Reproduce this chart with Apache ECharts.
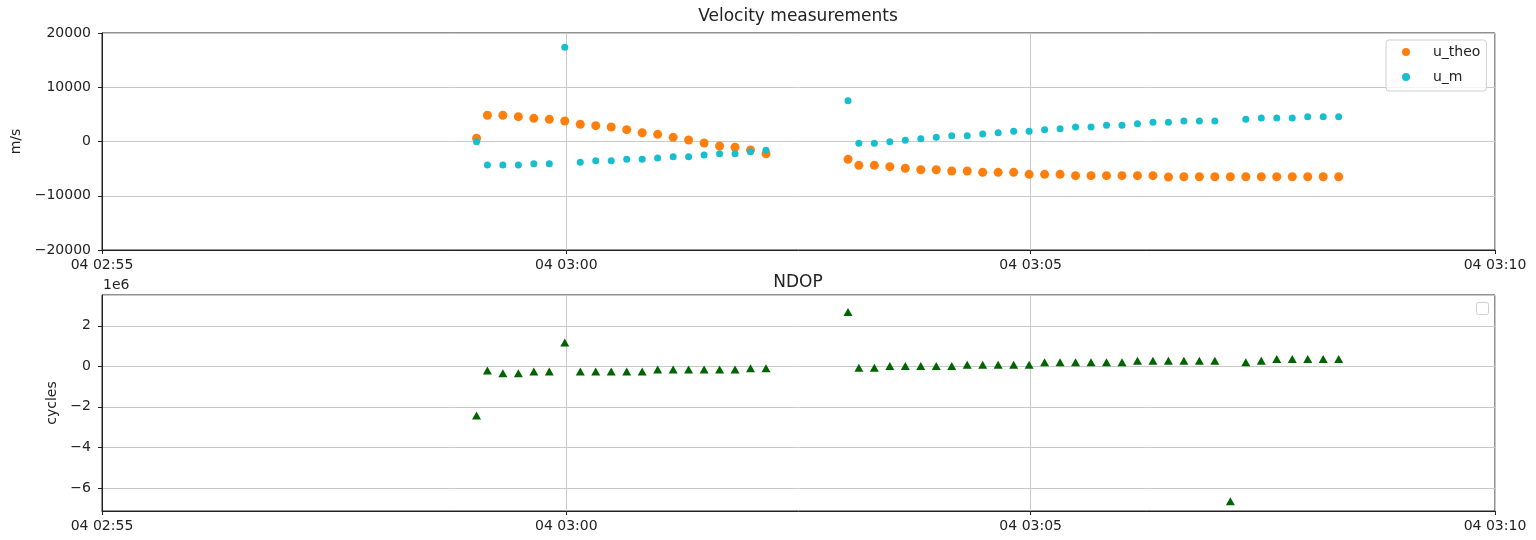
<!DOCTYPE html>
<html>
<head>
<meta charset="utf-8">
<script src="https://cdn.jsdelivr.net/npm/echarts@6/dist/echarts.min.js"></script>
<style>
html,body{margin:0;padding:0;background:#fff;}
#chart{width:1536px;height:540px;}
</style>
</head>
<body>
<div id="chart"></div>
<script>
// ---- data ----
const dateDay = [2021, 0, 4];
const times = [
  '02:59:02','02:59:09','02:59:19','02:59:29','02:59:39','02:59:49','02:59:59',
  '03:00:09','03:00:19','03:00:29','03:00:39','03:00:49','03:00:59',
  '03:01:09','03:01:19','03:01:29','03:01:39','03:01:49','03:01:59','03:02:09',
  '03:03:02','03:03:09','03:03:19','03:03:29','03:03:39','03:03:49','03:03:59',
  '03:04:09','03:04:19','03:04:29','03:04:39','03:04:49','03:04:59',
  '03:05:09','03:05:19','03:05:29','03:05:39','03:05:49','03:05:59',
  '03:06:09','03:06:19','03:06:29','03:06:39','03:06:49','03:06:59',
  '03:07:09','03:07:19','03:07:29','03:07:39','03:07:49','03:07:59',
  '03:08:09','03:08:19'
];
const uTheo = [
  590, 4830, 4830, 4580, 4270, 4090, 3780, 3170, 2920, 2670, 2180, 1620, 1320,
  770, 280, -280, -830, -1070, -1570, -2250,
  -3280, -4390, -4390, -4640, -4940, -5200, -5200, -5440, -5440, -5680, -5680,
  -5680, -6050, -6050, -6050, -6300, -6300, -6300, -6300, -6300, -6300, -6540,
  -6490, -6490, -6490, -6490, -6490, -6490, -6490, -6490, -6490, -6490, -6490
];
const uM = [
  -50, -4330, -4330, -4330, -4090, -4090, 17360, -3830, -3540, -3540, -3280,
  -3280, -3040, -2800, -2800, -2490, -2250, -2250, -1880, -1620,
  7520, -330, -330, -40, 220, 520, 770, 1070, 1070, 1380, 1620, 1880, 1880,
  2180, 2360, 2670, 2670, 2980, 2980, 3280, 3530, 3530,
  3780, 3780, 3780, null, 4090, 4330, 4330, 4330, 4580, 4580, 4580
];
const ndop = [ // cycles
  -2.43e6, -0.20e6, -0.34e6, -0.34e6, -0.25e6, -0.25e6, 1.18e6, -0.26e6, -0.26e6,
  -0.26e6, -0.26e6, -0.26e6, -0.16e6, -0.16e6, -0.16e6, -0.16e6, -0.16e6, -0.16e6,
  -0.10e6, -0.10e6,
  2.68e6, -0.07e6, -0.07e6, 0.02e6, 0.02e6, 0.02e6, 0.02e6, 0.02e6, 0.08e6, 0.08e6,
  0.08e6, 0.08e6, 0.08e6, 0.20e6, 0.20e6, 0.20e6, 0.20e6, 0.20e6, 0.20e6, 0.28e6,
  0.28e6, 0.28e6, 0.28e6, 0.28e6, 0.28e6, -6.66e6, 0.20e6, 0.28e6, 0.36e6, 0.36e6,
  0.36e6, 0.36e6, 0.36e6
];
const xStart = '02:55', xEnd = '03:10';
const velTicks = [-20000, 20000, 10000];   // min, max, interval
const ndopRange = [-7.14e6, 3.52e6];

// ---- helpers ----
function toMs(hms) {
  const p = hms.split(':').map(Number);
  return Date.UTC(dateDay[0], dateDay[1], dateDay[2], p[0], p[1], p[2] || 0);
}
const pad = n => String(n).padStart(2, '0');
function fmtTime(v) {
  const d = new Date(v);
  return pad(d.getUTCDate()) + ' ' + pad(d.getUTCHours()) + ':' + pad(d.getUTCMinutes());
}
const minus = s => String(s).replace('-', '\u2212');
function pairs(arr) {
  const out = [];
  arr.forEach((v, i) => { if (v !== null) out.push([toMs(times[i]), v]); });
  return out;
}

const FONT = 'DejaVu Sans';
const gridLine = { show: true, lineStyle: { color: '#c9c9c9', width: 1 } };
const axisLine = { show: true, onZero: false, lineStyle: { color: '#222', width: 1 } };
const axisTick = { show: true, length: 4, lineStyle: { color: '#222' } };

function xAx(gi) {
  return {
    type: 'value', gridIndex: gi,
    min: toMs(xStart), max: toMs(xEnd), interval: 5 * 60 * 1000,
    axisLine, axisTick, splitLine: gridLine,
    axisLabel: { formatter: fmtTime, color: '#222', fontFamily: FONT, fontSize: 14, margin: 8,
                 showMinLabel: true, showMaxLabel: true }
  };
}

const chart = echarts.init(document.getElementById('chart'), null, { renderer: 'canvas' });
chart.setOption({
  backgroundColor: '#fff',
  animation: false,
  title: [
    { text: 'Velocity measurements', left: 798, top: 8, textAlign: 'center', padding: 0,
      textStyle: { fontFamily: FONT, fontSize: 17, fontWeight: 'normal', color: '#222' } },
    { text: 'NDOP', left: 798, top: 274, textAlign: 'center', padding: 0,
      textStyle: { fontFamily: FONT, fontSize: 17, fontWeight: 'normal', color: '#222' } },
    { text: '1e6', left: 103, top: 278, padding: 0,
      textStyle: { fontFamily: FONT, fontSize: 14, fontWeight: 'normal', color: '#222' } }
  ],
  grid: [
    { left: 102, right: 41, top: 33, height: 217, show: true, borderColor: '#222', borderWidth: 1 },
    { left: 102, right: 41, top: 295, height: 216, show: true, borderColor: '#222', borderWidth: 1 }
  ],
  xAxis: [xAx(0), xAx(1)],
  yAxis: [
    { type: 'value', gridIndex: 0, min: velTicks[0], max: velTicks[1], interval: velTicks[2],
      name: 'm/s', nameLocation: 'middle', nameGap: 73, nameRotate: 90,
      nameTextStyle: { fontFamily: FONT, fontSize: 14, color: '#222' },
      axisLine, axisTick, splitLine: gridLine,
      axisLabel: { formatter: v => minus(v), color: '#222', fontFamily: FONT, fontSize: 14, margin: 11 } },
    { type: 'value', gridIndex: 1, min: ndopRange[0], max: ndopRange[1], splitNumber: 5,
      name: 'cycles', nameLocation: 'middle', nameGap: 36, nameRotate: 90,
      nameTextStyle: { fontFamily: FONT, fontSize: 14, color: '#222' },
      axisLine, axisTick, splitLine: gridLine,
      axisLabel: { formatter: v => minus(Math.round(v / 1e6)), showMinLabel: false, showMaxLabel: false,
                   color: '#222', fontFamily: FONT, fontSize: 14, margin: 11 } }
  ],
  legend: {
    show: true, orient: 'vertical', left: 1386, top: 40,
    data: [{ name: 'u_theo', icon: 'circle' }, { name: 'u_m', icon: 'circle' }],
    itemWidth: 26, itemHeight: 8, itemGap: 9,
    padding: [4, 6, 6, 16],
    borderColor: '#d0d0d0', borderWidth: 1, borderRadius: 3,
    backgroundColor: 'rgba(255,255,255,0.8)',
    textStyle: { fontFamily: FONT, fontSize: 14, color: '#222', lineHeight: 16, padding: [0, 0, 0, 9] }
  },
  graphic: [
    { type: 'rect', left: 1476, top: 302, shape: { width: 12, height: 12, r: 2 },
      style: { fill: '#fff', stroke: '#d0d0d0', lineWidth: 1 }, z: 10 }
  ],
  series: [
    { name: 'u_theo', type: 'scatter', xAxisIndex: 0, yAxisIndex: 0, symbol: 'circle', symbolSize: 9,
      itemStyle: { color: '#ff7f0e', opacity: 1 }, data: pairs(uTheo), z: 2 },
    { name: 'u_m', type: 'scatter', xAxisIndex: 0, yAxisIndex: 0, symbol: 'circle', symbolSize: 7,
      itemStyle: { color: '#17becf', opacity: 1 }, data: pairs(uM), z: 3 },
    { name: 'NDOP', type: 'scatter', xAxisIndex: 1, yAxisIndex: 1, symbol: 'triangle', symbolSize: [9, 8],
      itemStyle: { color: '#006400', opacity: 1 }, data: pairs(ndop), z: 2 }
  ]
});
</script>
</body>
</html>
